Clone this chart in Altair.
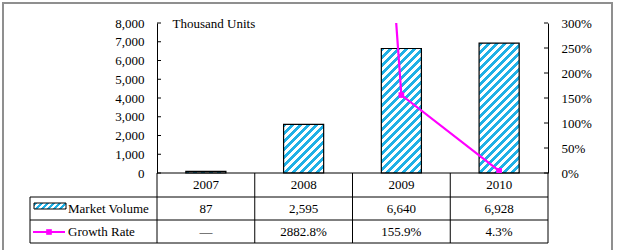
import altair as alt
import pandas as pd

# ---- data ----
years = ["2007", "2008", "2009", "2010"]
volume = [87, 2595, 6640, 6928]                 # thousand units
growth = [None, 28.828, 1.559, 0.043]           # fraction
volume_labels = ["87", "2,595", "6,640", "6,928"]
growth_labels = ["\u2014", "2882.8%", "155.9%", "4.3%"]
left_ticks = [0, 1000, 2000, 3000, 4000, 5000, 6000, 7000, 8000]
right_ticks = [0, 0.5, 1.0, 1.5, 2.0, 2.5, 3.0]
series_names = ["Market Volume", "Growth Rate"]

FONT = "Liberation Serif"
FS = 13
BLUE = "#1fb0e6"
MAGENTA = "#ff00ff"

W, H = 391, 150
YMAX = 8000
BAR_FRAC = 0.41


def hatch(w, h, period=8.0, L=220.0):
    d = w * w + h * h
    a = w * L / d
    b = h * L / d
    stops = []
    n = int(L / period) + 1
    for k in range(n):
        t0 = min(k * period / L, 1)
        t1 = min((k + 0.5) * period / L, 1)
        t2 = min((k + 1) * period / L, 1)
        stops += [
            {"offset": t0, "color": BLUE},
            {"offset": t1, "color": BLUE},
            {"offset": t1, "color": "#ffffff"},
            {"offset": t2, "color": "#ffffff"},
        ]
    return {"gradient": "linear", "x1": 0, "y1": 0, "x2": a, "y2": b, "stops": stops}


bar_w = BAR_FRAC * W / len(years)
grads = [hatch(bar_w, max(v / YMAX * H, 0.5)) for v in volume]

df = pd.DataFrame({
    "year": years,
    "volume": volume,
    "growth": growth,
    "vol_label": volume_labels,
    "growth_label": growth_labels,
})

xscale = alt.Scale(domain=years, paddingInner=0, paddingOuter=0)
xenc = alt.X("year:N", scale=xscale, axis=None)

left_axis = alt.Axis(orient="left", values=left_ticks, format=",d", ticks=False,
                     labelPadding=13, labelOverlap=False, title="Thousand Units",
                     titleAngle=0, titleAlign="left", titleBaseline="alphabetic",
                     titleX=15, titleY=4, titleFontWeight="normal")
right_axis = alt.Axis(orient="right", values=right_ticks, format=".0%", ticks=False,
                      labelPadding=13, labelOverlap=False, title=None)
lscale = alt.Scale(domain=[0, YMAX])
rscale = alt.Scale(domain=[0, 3])

fill = alt.when(alt.datum.year == years[0]).then(alt.value(grads[0]))
for y_, g in zip(years[1:-1], grads[1:-1]):
    fill = fill.when(alt.datum.year == y_).then(alt.value(g))
fill = fill.otherwise(alt.value(grads[-1]))

one = pd.DataFrame({"k": [0]})

frame = alt.Chart(one).mark_rect(fill="transparent", stroke="#8f8f8f", strokeWidth=2).encode(
    x=alt.value(-154), x2=alt.value(455), y=alt.value(-20), y2=alt.value(240)
)

bars = alt.Chart(df).mark_bar(
    width=alt.RelativeBandSize(BAR_FRAC), stroke="black", strokeWidth=1.2
).encode(
    x=xenc,
    y=alt.Y("volume:Q", scale=lscale, axis=left_axis),
    fill=fill,
)

lticks = alt.Chart(pd.DataFrame({"volume": left_ticks})).mark_rule(color="black").encode(
    y=alt.Y("volume:Q", scale=lscale, axis=left_axis),
    x=alt.value(0), x2=alt.value(4),
)

# table grid
vlines = alt.Chart(df).mark_rule(color="black", strokeWidth=1).encode(
    x=alt.X("year:N", bandPosition=0, scale=xscale, axis=None),
    y=alt.value(H), y2=alt.value(H + 70),
)
vright = alt.Chart(one).mark_rule(color="black").encode(
    x=alt.value(W), y=alt.value(H), y2=alt.value(H + 70))
vleft = alt.Chart(one).mark_rule(color="black").encode(
    x=alt.value(-127), y=alt.value(H + 24), y2=alt.value(H + 70))
hzero = alt.Chart(one).mark_rule(color="black").encode(
    x=alt.value(0), x2=alt.value(W), y=alt.value(H))
hl1 = alt.Chart(one).mark_rule(color="black").encode(
    x=alt.value(-127), x2=alt.value(W), y=alt.value(H + 24))
hl2 = alt.Chart(one).mark_rule(color="black").encode(
    x=alt.value(-127), x2=alt.value(W), y=alt.value(H + 47))
hl3 = alt.Chart(one).mark_rule(color="black").encode(
    x=alt.value(-127), x2=alt.value(W), y=alt.value(H + 70))

txt = dict(font=FONT, fontSize=FS, color="black", baseline="middle")
t_year = alt.Chart(df).mark_text(**txt).encode(x=xenc, y=alt.value(H + 12), text="year:N")
t_vol = alt.Chart(df).mark_text(**txt).encode(x=xenc, y=alt.value(H + 36), text="vol_label:N")
t_gr = alt.Chart(df).mark_text(**txt).encode(x=xenc, y=alt.value(H + 59), text="growth_label:N")

leg_text1 = alt.Chart(one).mark_text(align="left", **txt).encode(
    x=alt.value(-89), y=alt.value(H + 36), text=alt.value(series_names[0]))
leg_text2 = alt.Chart(one).mark_text(align="left", **txt).encode(
    x=alt.value(-89), y=alt.value(H + 59), text=alt.value(series_names[1]))
leg_rect = alt.Chart(one).mark_rect(fill=hatch(32, 6, period=6), stroke="black", strokeWidth=1).encode(
    x=alt.value(-123), x2=alt.value(-91), y=alt.value(H + 30), y2=alt.value(H + 36))
leg_line = alt.Chart(one).mark_rule(color=MAGENTA, strokeWidth=2).encode(
    x=alt.value(-124), x2=alt.value(-92), y=alt.value(H + 59))
leg_pt = alt.Chart(one).mark_point(shape="square", filled=True, size=32, color=MAGENTA, opacity=1).encode(
    x=alt.value(-108), y=alt.value(H + 59))

left_layer = alt.layer(
    frame, vlines, vright, vleft, hl1, hl2, hl3,
    bars, lticks, hzero,
    t_year, t_vol, t_gr, leg_text1, leg_text2, leg_rect, leg_line, leg_pt,
)

gdf = df[df["growth"].notna()]
line = alt.Chart(gdf).mark_line(color=MAGENTA, strokeWidth=2.2, clip=True).encode(
    x=xenc,
    y=alt.Y("growth:Q", scale=rscale, axis=right_axis),
)
pts = alt.Chart(gdf).mark_point(shape="square", filled=True, size=32, color=MAGENTA,
                                opacity=1, clip=True).encode(
    x=xenc,
    y=alt.Y("growth:Q", scale=rscale, axis=right_axis),
)
rticks = alt.Chart(pd.DataFrame({"growth": right_ticks})).mark_rule(color="black").encode(
    y=alt.Y("growth:Q", scale=rscale, axis=right_axis),
    x=alt.value(W - 4), x2=alt.value(W),
)
right_layer = alt.layer(line, pts, rticks)

chart = alt.layer(left_layer, right_layer).resolve_scale(y="independent").properties(
    width=W, height=H,
    autosize=alt.AutoSizeParams(type="none"),
    padding={"left": 157, "top": 23, "right": 70, "bottom": 77},
    background="white",
).configure_view(stroke="transparent").configure_axis(
    labelFont=FONT, labelFontSize=FS, labelColor="black",
    titleFont=FONT, titleFontSize=FS, titleColor="black",
    domainColor="black", domainWidth=1, grid=False,
)

chart.save("out.html", embed_options={"renderer": "svg", "actions": False})
